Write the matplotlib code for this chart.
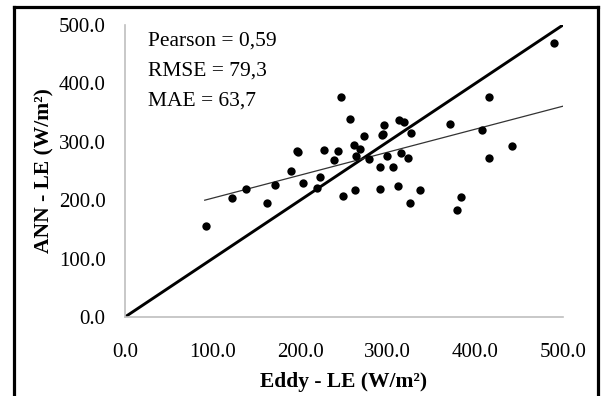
import numpy as np
import matplotlib
matplotlib.use("Agg")
import matplotlib.pyplot as plt
from matplotlib.lines import Line2D

eddy_le = [92, 122, 138, 162, 171, 189, 196, 198, 203, 219, 223, 227, 239, 243,
           247, 249, 257, 261, 263, 264, 268, 273, 279, 291, 291, 293, 294, 296,
           299, 306, 312, 313, 315, 318, 323, 325, 327, 337, 371, 379, 384, 407,
           416, 416, 442, 490]
ann_le = [156, 203, 219, 196, 226, 250, 285, 282, 229, 221, 239, 286, 268, 285,
          376, 207, 339, 295, 217, 276, 288, 310, 271, 256, 220, 312, 313, 329,
          276, 256, 224, 338, 281, 334, 272, 196, 315, 217, 330, 183, 206, 321,
          376, 273, 293, 470]
# trend line end points
trend_x = [91, 500]
trend_y = [200, 361]
identity = [0, 500]
ticks = [0, 100, 200, 300, 400, 500]
tick_labels = ["0.0", "100.0", "200.0", "300.0", "400.0", "500.0"]
stats_text = ["Pearson = 0,59", "RMSE = 79,3", "MAE = 63,7"]

plt.rcParams['font.family'] = ['Liberation Serif', 'DejaVu Serif']

W, H = 601, 396
fig = plt.figure(figsize=(W / 100, H / 100), dpi=100)
ax = fig.add_axes([125 / W, 1 - 317 / H, (563 - 125) / W, (317 - 25) / H])

ax.plot(identity, identity, color='black', lw=2.1, zorder=2, solid_capstyle='butt')
ax.plot(trend_x, trend_y, color='#333333', lw=0.9, zorder=2)
ax.scatter(eddy_le, ann_le, s=36, color='black', zorder=3, linewidths=0)

ax.set_xlim(0, 500)
ax.set_ylim(0, 500)
ax.set_xticks(ticks)
ax.set_xticklabels(tick_labels)
ax.set_yticks(ticks)
ax.set_yticklabels(tick_labels)
ax.tick_params(length=0, labelsize=15)
ax.tick_params(axis='y', pad=14)
ax.tick_params(axis='x', pad=19)
for s in ['top', 'right']:
    ax.spines[s].set_visible(False)
for s in ['left', 'bottom']:
    ax.spines[s].set_color('#bfbfbf')
    ax.spines[s].set_linewidth(1.2)

ax.set_xlabel("Eddy - LE (W/m²)", fontsize=15.5, fontweight='bold', labelpad=7)
ax.set_ylabel("ANN - LE (W/m²)", fontsize=15.5, fontweight='bold', labelpad=3)

for i, t in enumerate(stats_text):
    fig.text(148 / W, 1 - (41 + 30 * i) / H, t, fontsize=15.5, va='center', ha='left')

# outer frame
lw = 2.3
kw = dict(color='black', lw=lw, transform=fig.transFigure, solid_capstyle='projecting')
fig.add_artist(Line2D([13.5 / W, 13.5 / W], [0, 1 - 6.5 / H], **kw))
fig.add_artist(Line2D([13.5 / W, 598 / W], [1 - 6.5 / H, 1 - 6.5 / H], **kw))
fig.add_artist(Line2D([598 / W, 598 / W], [0, 1 - 6.5 / H], **kw))

fig.savefig("out.png", dpi=100)
